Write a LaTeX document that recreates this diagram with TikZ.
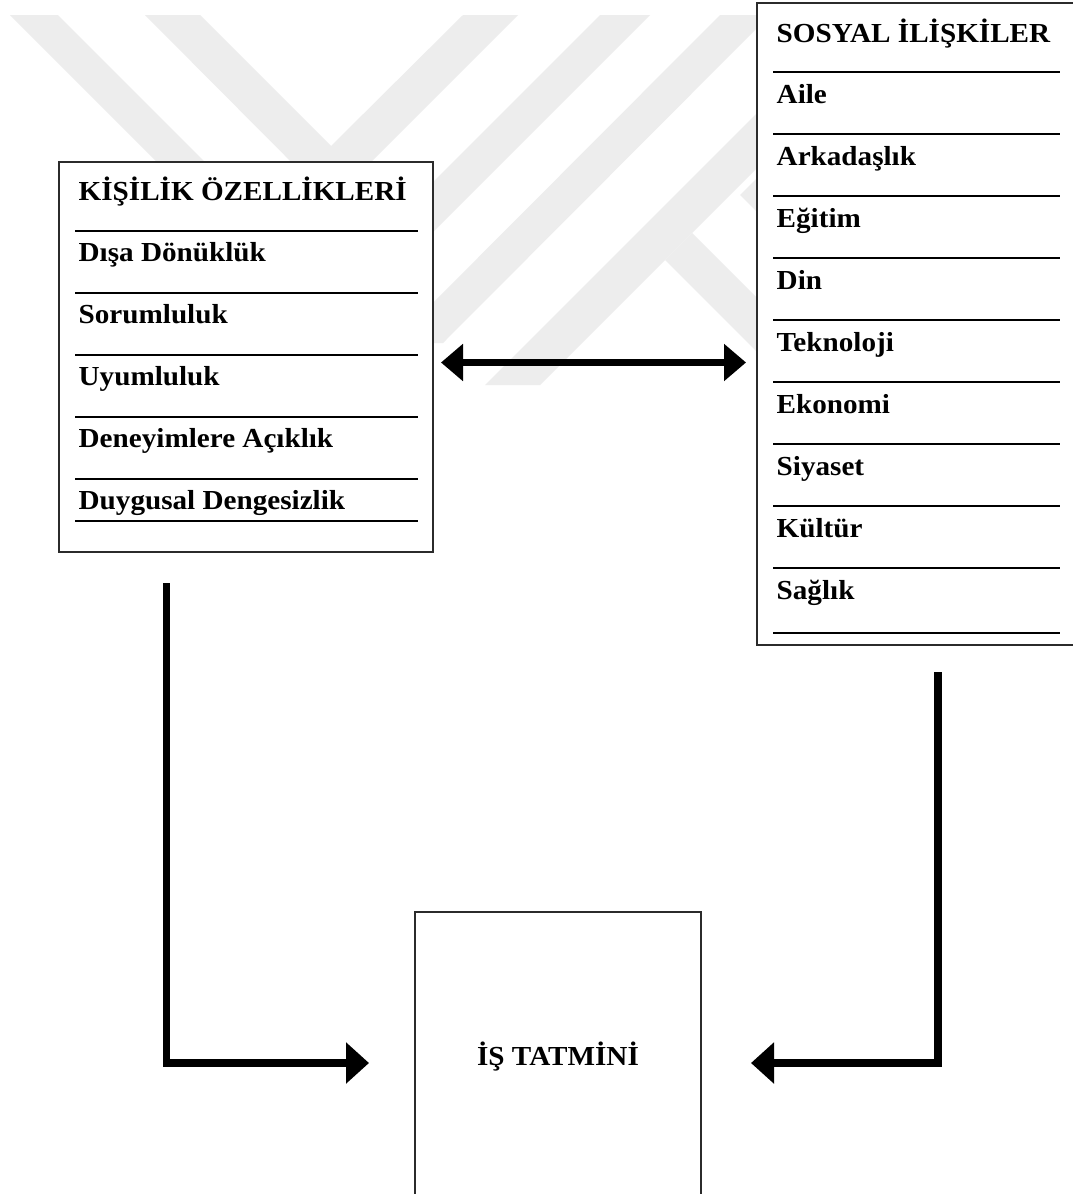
\documentclass[tikz,border=0pt]{standalone}
\usepackage{fontspec}
\setmainfont[FakeStretch=1.06]{Liberation Serif}
\usetikzlibrary{arrows.meta,calc}
\definecolor{Mark}{HTML}{EDEDED}
\definecolor{Frame}{HTML}{2B2B2B}

\begin{document}
\begin{tikzpicture}[x=1pt,y=-1pt,
  frame/.style={draw=Frame,line width=1.1pt,fill=white,inner sep=0pt,outer sep=0pt,anchor=north west},
  rule/.style={line width=2pt},
  item/.style={anchor=base west,inner sep=0pt,font=\fontsize{27.5}{30}\selectfont\bfseries},
  bigarrow/.style={line width=7.5pt,-{Triangle[length=23pt,width=40pt]}}]
  \useasboundingbox (0,0) rectangle (1073,1194);
  \clip (0,0) rectangle (1073,1194);
  \fill[white] (0,0) rectangle (1073,1194);
  % watermark
  \fill[Mark] (10,15) -- (58,15) -- (329,286) -- (600,15) -- (650,15) -- (330,335) -- cycle;
  \fill[Mark] (145,15) -- (200,15) -- (331,146) -- (463,15) -- (518,15) -- (331,202) -- cycle;
  \fill[Mark] (720,15) -- (770,15) -- (443,343) -- (393,343) -- cycle;
  \fill[Mark] (855,15) -- (910,15) -- (540,385) -- (485,385) -- cycle;
  \fill[Mark] (665,260) -- (692,233) -- (770,311) -- (770,365) -- cycle;
  \fill[Mark] (740,195) -- (770,165) -- (770,225) -- cycle;

  % boxes
  \node[frame,minimum width=374pt,minimum height=390pt] (kisilik) at (59,162) {};
  \node[frame,minimum width=360pt,minimum height=642pt] (sosyal) at (757,3) {};
  \node[frame,minimum width=286pt,minimum height=302pt] (tatmin) at (415,912) {};

  % left list
  \node[item] (kTitle) at (78.5,200) {KİŞİLİK ÖZELLİKLERİ};
  \foreach \t [count=\i from 0] in {Dışa Dönüklük,Sorumluluk,Uyumluluk,Deneyimlere Açıklık,Duygusal Dengesizlik} {
    \draw[rule] (75,231+62*\i) -- (418,231+62*\i);
    \node[item] (k\i) at (78.5,261+62*\i) {\t};
  }
  \draw[rule] (75,521) -- (418,521);

  % right list
  \node[item] (sTitle) at (776.5,42) {SOSYAL İLİŞKİLER};
  \foreach \t [count=\i from 0] in {Aile,Arkadaşlık,Eğitim,Din,Teknoloji,Ekonomi,Siyaset,Kültür,Sağlık} {
    \draw[rule] (773,72+62*\i) -- (1060,72+62*\i);
    \node[item] (s\i) at (776.5,103+62*\i) {\t};
  }
  \draw[rule] (773,633) -- (1060,633);

  \node[item,anchor=base] (tatminT) at (558,1065.5) {İŞ TATMİNİ};

  % arrows
  \coordinate (kFoot) at (166.5,583);
  \coordinate (sFoot) at (938,672);
  \draw[bigarrow] (kFoot) |- ([xshift=-46pt]tatmin.west);
  \draw[bigarrow] (sFoot) |- ([xshift=50pt]tatmin.east);
  \draw[line width=7pt,{Triangle[length=22pt,width=36pt]}-{Triangle[length=22pt,width=36pt]}]
    ([xshift=8pt,yshift=-5.5pt]kisilik.east) -- ([xshift=-11pt,yshift=-5.5pt]kisilik.east -| sosyal.west);
\end{tikzpicture}
\end{document}
